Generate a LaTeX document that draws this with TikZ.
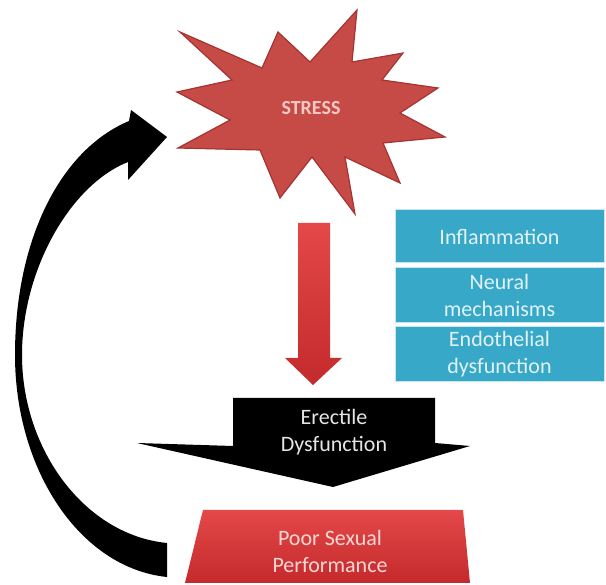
\documentclass[tikz,border=0pt]{standalone}
\usepackage{fontspec}
\setmainfont{Carlito}
\definecolor{starfill}{RGB}{198,74,70}
\definecolor{starborder}{RGB}{165,52,50}
\definecolor{stresstxt}{RGB}{246,200,195}
\definecolor{bluefill}{RGB}{56,168,200}
\definecolor{blueline}{RGB}{200,230,240}
\definecolor{bluetxt}{RGB}{225,242,247}
\definecolor{redtop}{RGB}{228,72,72}
\definecolor{redbot}{RGB}{196,42,44}
\definecolor{pinktxt}{RGB}{250,215,212}
\tikzset{
  txt/.style={font=\fontsize{22}{27}\selectfont, align=center, inner sep=0pt},
  rowbox/.style={txt, fill=bluefill, draw=blueline, line width=1pt, text=bluetxt,
    minimum width=209pt, text width=205pt},
}
\begin{document}
\begin{tikzpicture}[x=1pt,y=-1pt]
\useasboundingbox (0,0) rectangle (606,585);
% star
\fill[starfill, draw=starborder, line width=1.2pt, line join=miter]
  (180,32) -- (262,68) -- (278,32) -- (310,62) -- (357,10) -- (352,62) -- (403,53)
  -- (382,80) -- (438,88) -- (400,113) -- (445,137) -- (383,143) -- (400,183)
  -- (345,157) -- (355,214) -- (312,157) -- (280,198) -- (260,150) -- (178,148)
  -- (230,120) -- (177,92) -- (232,80) -- cycle;
\node[txt, text=stresstxt, font=\fontsize{20}{24}\selectfont\bfseries] (stress) at (311,108) {STRESS};
% red down arrow
\shade[top color=redtop, bottom color=redbot]
  (298,223) -- (330,223) -- (330,358) -- (342,358) -- (313,385) -- (285,358) -- (298,358) -- cycle;
% blue boxes
\node[rowbox, minimum height=53pt] (infl) at (499.5,236.5) {Inflammation};
\node[rowbox, minimum height=55pt] (neur) at (499.5,295.5) {Neural\\mechanisms};
\node[rowbox, minimum height=55pt] (endo) at (499.5,354.5) {Endothelial\\dysfunction};
% black wide arrow
\fill[black] (233,398) -- (435,398) -- (435,443) -- (470,446) -- (333,487)
  -- (137,443) -- (233,446) -- cycle;
\node[txt, text=white!90!black] (ed) at (334,432) {Erectile\\Dysfunction};
% trapezoid
\shade[top color=redtop, bottom color=redbot]
  (203,510) -- (463,510) -- (470,583) -- (185,583) -- cycle;
\node[txt, text=pinktxt] (psp) at (330,551) {Poor Sexual\\Performance};
% curved black arrow
\fill[black] (167,577) .. controls (80,568) and (15,470) .. (15,355)
  .. controls (15,240) and (60,150) .. (129,121)
  -- (131,110) -- (167,137) -- (128,180) -- (128,162)
  .. controls (70,185) and (22,270) .. (22,355)
  .. controls (22,450) and (85,535) .. (167,543) -- cycle;
\end{tikzpicture}
\end{document}
